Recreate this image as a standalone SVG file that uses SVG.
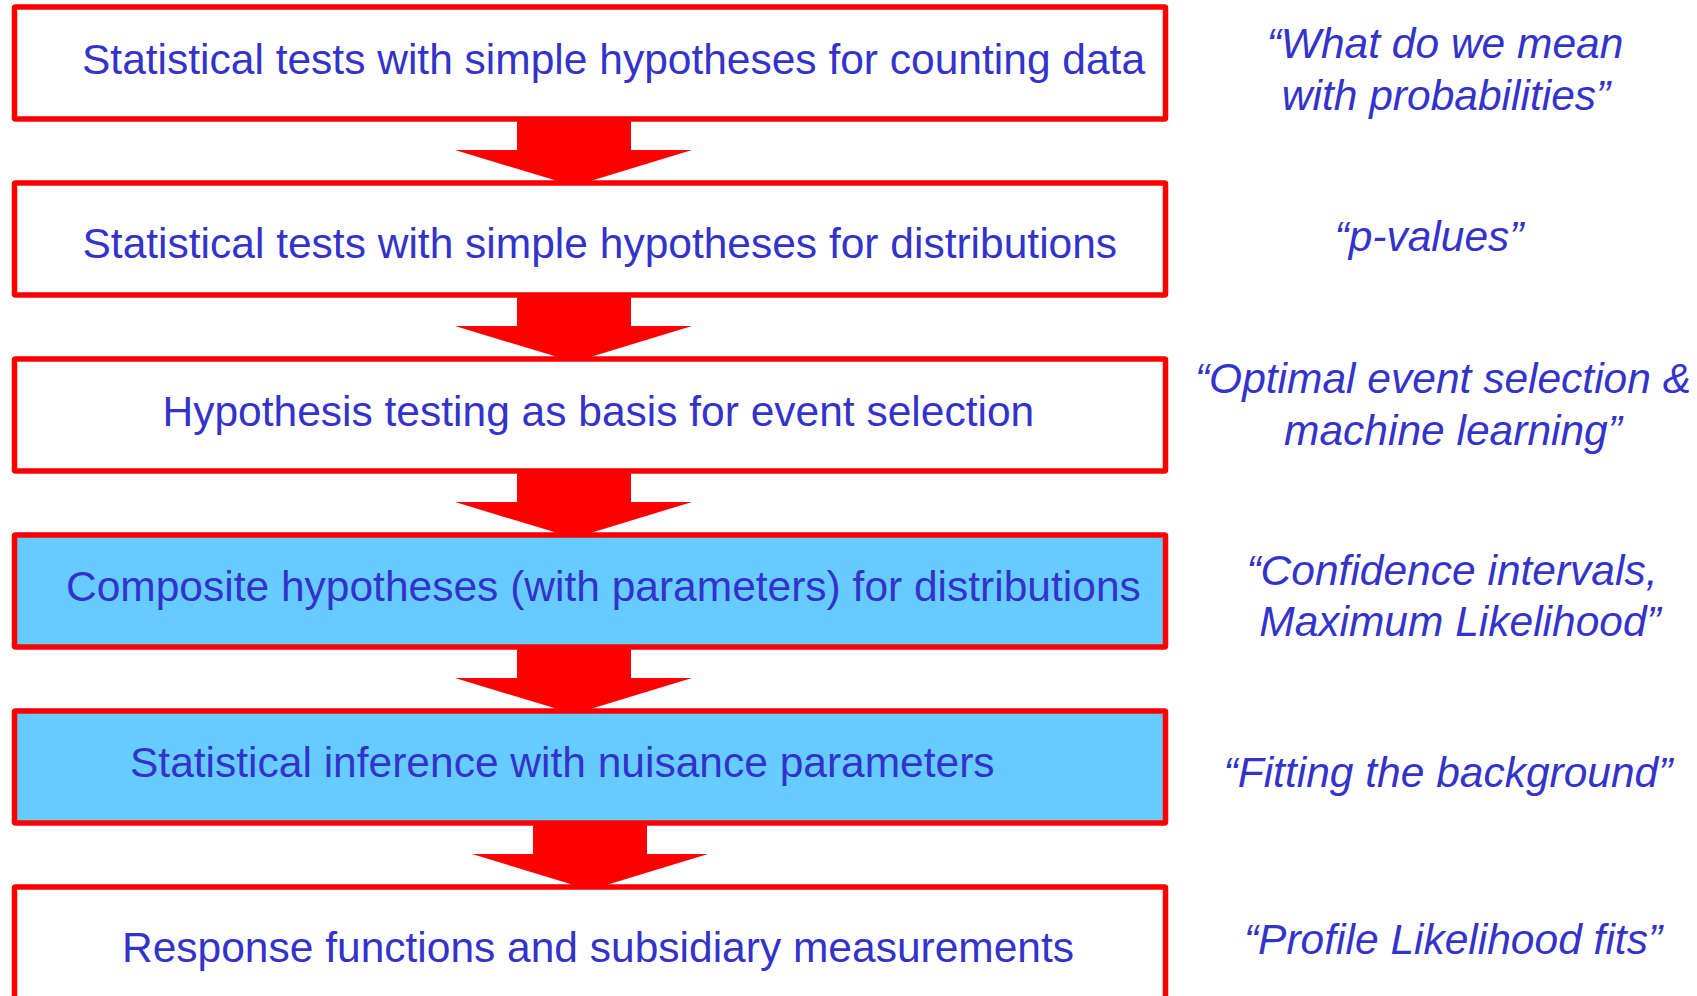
<svg xmlns="http://www.w3.org/2000/svg" width="1697" height="996" viewBox="0 0 1697 996">
<style>
.box{fill:#FFFFFF;stroke:#FF0000;stroke-width:5.5;stroke-linejoin:round}
.hl{fill:#66CCFF}
.arr{fill:#FF0000;stroke:none}
.t{font-family:"Liberation Sans",Arial,sans-serif;font-size:42.5px;fill:#3333CC}
.q{font-family:"Liberation Sans",Arial,sans-serif;font-size:42.5px;font-style:italic;fill:#3333CC;text-anchor:middle}
</style>
<rect width="1697" height="996" fill="#FFFFFF"/>
<g id="connectors">
<path class="arr" d="M517,119 H631 V150 H692 L574,186 L455,150 H517 Z"/>
<path class="arr" d="M517,295 H631 V326 H692 L574,362 L455,326 H517 Z"/>
<path class="arr" d="M517,471 H631 V502 H692 L574,538 L455,502 H517 Z"/>
<path class="arr" d="M517,647 H631 V678 H692 L574,714 L455,678 H517 Z"/>
<path class="arr" d="M533,823 H647 V854 H708 L590,890 L472,854 H533 Z"/>
</g>
<g id="node1"><rect class="box" x="14.5" y="7" width="1151" height="112" rx="1"/><text class="t" x="82" y="74">Statistical tests with simple hypotheses for counting data</text></g>
<g id="node2"><rect class="box" x="14.5" y="183" width="1151" height="112" rx="1"/><text class="t" x="82.5" y="258">Statistical tests with simple hypotheses for distributions</text></g>
<g id="node3"><rect class="box" x="14.5" y="359" width="1151" height="112" rx="1"/><text class="t" x="162.5" y="426">Hypothesis testing as basis for event selection</text></g>
<g id="node4"><rect class="box hl" x="14.5" y="535" width="1151" height="112" rx="1"/><text class="t" x="66" y="601">Composite hypotheses (with parameters) for distributions</text></g>
<g id="node5"><rect class="box hl" x="14.5" y="711" width="1151" height="112" rx="1"/><text class="t" x="130" y="777">Statistical inference with nuisance parameters</text></g>
<g id="node6"><rect class="box" x="14.5" y="887" width="1151" height="112" rx="1"/><text class="t" x="122" y="962">Response functions and subsidiary measurements</text></g>
<g id="notes">
<text class="q" x="1445" y="58">“What do we mean</text>
<text class="q" x="1446" y="110">with probabilities”</text>
<text class="q" x="1429" y="251">“p-values”</text>
<text class="q" x="1443" y="393">“Optimal event selection &amp;</text>
<text class="q" x="1453" y="445">machine learning”</text>
<text class="q" x="1452" y="585">“Confidence intervals,</text>
<text class="q" x="1460" y="636">Maximum Likelihood”</text>
<text class="q" x="1448" y="787">“Fitting the background”</text>
<text class="q" x="1453" y="954">“Profile Likelihood fits”</text>
</g>
</svg>
